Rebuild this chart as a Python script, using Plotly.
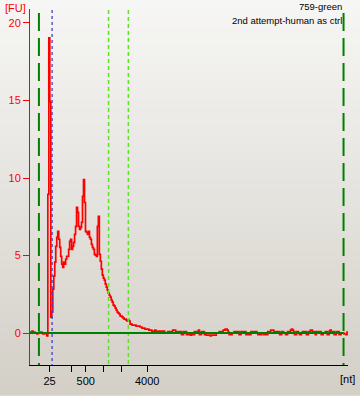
import numpy as np
import plotly.graph_objects as go

# ---- data (fluorescence, FU) sampled along migration time ----
fu_signal = [
    0.06, 0.06, 0.13, 0.06, 0.06, 0.0, 0.0, -0.06, 0.0, 0.06, 0.06, 0.06, 0.0, -0.06, -0.06, 0.0, 0.0, -0.19,
    8.94, 19.04, 14.92,
    1.03, 1.35, 2.83, 3.67, 4.57, 5.59, 6.17, 6.56, 6.05, 5.53,
    4.95, 4.44, 4.24, 4.57, 4.44, 4.76, 4.95, 4.95, 5.40, 5.92,
    6.05, 5.40, 5.59, 5.85, 6.37, 6.88, 8.10, 7.78, 6.88, 6.69,
    6.82, 7.14, 8.81, 9.90, 8.42, 6.56, 6.50, 6.37, 6.56, 6.17,
    6.05, 5.72, 5.53, 5.40, 5.08, 5.02, 4.95, 6.88, 7.52, 5.08,
    4.63, 4.12, 3.73, 3.54, 3.41, 3.15, 2.96, 2.77, 2.57, 2.44,
    2.32, 2.12, 1.99, 1.80, 1.74, 1.61, 1.48, 1.35, 1.29, 1.22,
    1.09, 1.09, 1.03, 0.96, 0.90, 0.90, 0.84, 0.77, 0.84, 0.77,
    0.58, 0.58, 0.51, 0.51, 0.51, 0.51, 0.45, 0.45, 0.45, 0.45,
    0.39, 0.39, 0.32, 0.32, 0.32, 0.26, 0.26, 0.26, 0.26, 0.19,
    0.19, 0.19, 0.13, 0.13, 0.13, 0.19, 0.13, 0.13, 0.13, 0.13,
    0.13, 0.13, 0.13, 0.13, 0.13, 0.0, 0.0, 0.0, 0.1, 0.1,
    0.1, 0.1, 0.1, 0.19, 0.19, 0.19, 0.1, 0.1, 0.1, 0.1,
    0.1, 0.1, -0.1, -0.1, 0.1, 0.1, 0.1, -0.1, -0.1, -0.1,
    -0.1, -0.13, -0.1, -0.1, -0.1, 0.1, 0.1, 0.1, 0.1, 0.19,
    -0.1, -0.1, 0.1, 0.1, 0.1, -0.1, -0.1, -0.13, -0.13, -0.13,
    -0.13, -0.19, -0.13, -0.13, -0.13, -0.13, -0.13, 0.0, 0.0, 0.0,
    0.1, 0.1, 0.1, 0.1, 0.19, 0.19, 0.26, 0.26, 0.19, 0.06,
    -0.1, -0.1, -0.1, 0.0, 0.0, 0.1, 0.1, 0.1, 0.1, 0.1,
    -0.1, -0.1, 0.1, 0.1, 0.1, 0.1, 0.1, -0.1, -0.1, -0.1,
    -0.1, -0.1, 0.1, 0.1, 0.1, 0.1, 0.1, 0.1, 0.0, -0.1,
    -0.1, -0.1, -0.1, 0.0, 0.0, -0.1, -0.1, -0.1, -0.1, 0.1,
    0.1, 0.1, 0.19, 0.19, 0.19, 0.1, 0.1, 0.1, 0.1, 0.1,
    0.1, -0.1, -0.1, 0.1, 0.1, 0.0, 0.0, -0.1, -0.1, 0.1,
    0.1, 0.1, 0.19, 0.26, 0.19, 0.1, -0.1, -0.1, 0.1, 0.1,
    0.0, -0.1, -0.1, 0.0, 0.1, 0.1, 0.1, 0.1, -0.1, -0.1,
    0.1, 0.06, 0.19, 0.19, 0.1, 0.1, 0.1, -0.1, 0.1, 0.1,
    0.1, 0.1, 0.1, -0.1, -0.1, 0.0, 0.0, 0.1, 0.1, -0.1,
    -0.1, 0.13, 0.19, 0.06, 0.1, 0.1, -0.1, -0.1, 0.1, 0.1,
    0.1, -0.1, -0.1, 0.0, 0.0, 0.0, -0.06, -0.06, -0.1, 0.06, 0.0,
]
time_pts = np.arange(len(fu_signal))  # sample index along migration time

ladder_pos = [19.7, 42.3, 56.3, 73.7, 92.3, 118.3]
ladder_labels = ["25", "", "500", "", "", "4000"]
fu_ticks = [0, 5, 10, 15, 20]
marker_pos = [9.0, 316.5]          # lower / upper markers
smear_start = [22.3]               # blue dotted
region_pos = [79.3, 99.3]          # region of interest (light green)

sample_name = "759-green"
sample_note = "2nd attempt-human as ctrl"

# ---- layout geometry ----
W, H = 360, 396
L, R, T, B = 27, 12, 9, 30
PW, PH = W - L - R, H - T - B


def px(xp):
    return (xp - L) / PW


def py(yp):
    return (H - B - yp) / PH


fig = go.Figure()

fig.add_trace(go.Scatter(
    x=time_pts, y=fu_signal, mode="lines",
    line=dict(color="#ff0000", width=1.7, shape="hv"),
    hoverinfo="skip", showlegend=False,
))

shapes = []
# background gradient
nb = 44
top_c = np.array([247, 247, 245])
bot_c = np.array([212, 208, 200])
for i in range(nb):
    y_top = H * i / nb
    y_bot = H * (i + 1) / nb
    t = (i + 0.5) / nb
    c = (top_c * (1 - t) + bot_c * t).astype(int)
    shapes.append(dict(type="rect", xref="paper", yref="paper",
                       x0=px(-5), x1=px(W + 5), y0=py(y_bot + 0.5), y1=py(y_top - 0.5),
                       fillcolor=f"rgb({c[0]},{c[1]},{c[2]})", line=dict(width=0),
                       layer="below"))

for m in marker_pos:
    shapes.append(dict(type="line", xref="x", yref="paper", x0=m, x1=m,
                       y0=py(13), y1=0, layer="above",
                       line=dict(color="#008000", width=2, dash="18px,7px")))
for m in smear_start:
    shapes.append(dict(type="line", xref="x", yref="paper", x0=m, x1=m,
                       y0=py(10), y1=0, layer="above",
                       line=dict(color="#4040c8", width=1.3, dash="3px,3px")))
for m in region_pos:
    shapes.append(dict(type="line", xref="x", yref="paper", x0=m, x1=m,
                       y0=py(10), y1=0, layer="above",
                       line=dict(color="#5ee22a", width=1.5, dash="4px,3px")))
# baseline
shapes.append(dict(type="line", xref="x", yref="y", x0=0, x1=marker_pos[1],
                   y0=0, y1=0, layer="above",
                   line=dict(color="#008000", width=2)))

font_fam = "Liberation Sans"
annotations = [
    dict(text="[FU]", xref="paper", yref="paper", x=px(0), y=py(8),
         xanchor="left", yanchor="middle", showarrow=False,
         font=dict(color="#ff0000", size=11, family=font_fam)),
    dict(text=sample_name, xref="paper", yref="paper", x=px(344), y=py(6),
         xanchor="right", yanchor="middle", showarrow=False,
         font=dict(color="#000000", size=9.5, family=font_fam)),
    dict(text=sample_note, xref="paper", yref="paper", x=px(344), y=py(21),
         xanchor="right", yanchor="middle", showarrow=False,
         font=dict(color="#000000", size=9.5, family=font_fam)),
    dict(text="[nt]", xref="paper", yref="paper", x=px(347), y=py(380),
         xanchor="center", yanchor="middle", showarrow=False,
         font=dict(color="#000000", size=11, family=font_fam)),
]

fig.update_layout(
    width=W, height=H,
    margin=dict(l=L, r=R, t=T, b=B, pad=0),
    paper_bgcolor="rgb(230,229,225)",
    plot_bgcolor="rgba(0,0,0,0)",
    shapes=shapes, annotations=annotations,
    showlegend=False,
    xaxis=dict(range=[0, PW], tickvals=ladder_pos, ticktext=ladder_labels,
               showgrid=False, zeroline=False, showline=True, linecolor="#000000",
               linewidth=1, ticks="outside", ticklen=6, tickcolor="#000000",
               tickwidth=1, tickfont=dict(color="#000000", size=11, family=font_fam)),
    yaxis=dict(range=[-2.06, 20.9], tickvals=fu_ticks,
               showgrid=False, zeroline=False, showline=True, linecolor="#ff0000",
               linewidth=1, ticks="outside", ticklen=6, tickcolor="#ff0000",
               tickwidth=1, tickfont=dict(color="#ff0000", size=11, family=font_fam)),
)

fig.write_html("out.html")
